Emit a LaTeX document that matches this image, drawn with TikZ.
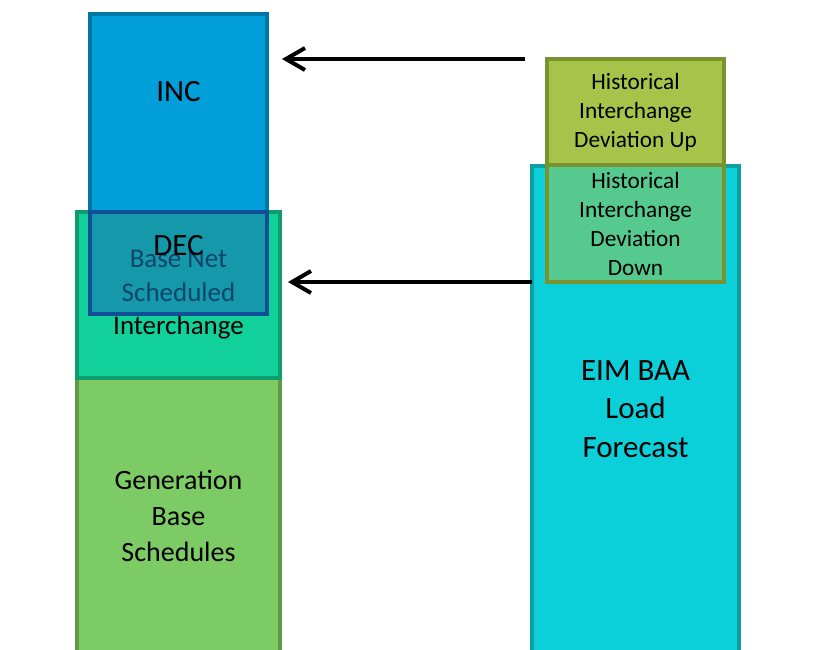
\documentclass[tikz,border=0pt]{standalone}
\usepackage{fontspec}
\setmainfont{Carlito}
\usepackage{tikz}
\usetikzlibrary{positioning}
\usetikzlibrary{arrows.meta}

\definecolor{genfill}{HTML}{7DCB64}
\definecolor{genline}{HTML}{5E9A46}
\definecolor{netfill}{HTML}{12D099}
\definecolor{netline}{HTML}{0E9E6E}
\definecolor{incfill}{HTML}{009FD9}
\definecolor{incline}{HTML}{0077A2}
\definecolor{decfill}{HTML}{1773B5}
\definecolor{decline}{HTML}{0F4F96}
\definecolor{eimfill}{HTML}{0BD0D9}
\definecolor{eimline}{HTML}{0A9FA0}
\definecolor{hupfill}{HTML}{A8C34A}
\definecolor{hupline}{HTML}{7A9230}
\definecolor{hdownfill}{HTML}{55C98E}

\begin{document}
\begin{tikzpicture}[x=1pt,y=-1pt,
   block/.style={draw, line width=4pt, outer sep=0pt, inner sep=0pt, align=center},
   flow/.style={line width=4pt, -{Straight Barb[length=19pt,width=22pt]}},
   big/.style={font=\fontsize{31}{38.5}\selectfont, align=center},
   mid/.style={font=\fontsize{28}{36}\selectfont},
   net/.style={font=\fontsize{27}{33.5}\selectfont},
   small/.style={font=\fontsize{23.3}{29}\selectfont}]
   \path[use as bounding box] (0,0) rectangle (837,649);
   \clip (0,0) rectangle (837,649);

   \node[block, mid, fill=genfill, draw=genline, minimum width=203pt, minimum height=276pt]
      (gen) at (178.5,516) {Generation\\Base\\Schedules};
   \node[block, net, fill=netfill, draw=netline, minimum width=203pt, minimum height=166pt,
      above=0pt of gen] (basenet) {Base Net\\Scheduled\\Interchange};
   \node[block, fill=decfill, fill opacity=0.6, draw=decline, minimum width=177pt, minimum height=102pt]
      (dec) at (178.5,263) {};
   \node[block, fill=incfill, draw=incline, minimum width=177pt, minimum height=198pt,
      above=0pt of dec] (inc) {};
   \draw[decline, line width=4pt] (dec.north west) rectangle (dec.south east);
   \node[big] (inc-text) at (178.5,92) {INC};
   \node[big] (dec-text) at (178.5,246) {DEC};

   \node[block, big, fill=eimfill, draw=eimline, minimum width=207pt, minimum height=486pt]
      (eim) at (635.5,409) {EIM BAA\\Load\\Forecast};
   \node[block, small, fill=hupfill, draw=hupline, minimum width=177pt, minimum height=106pt]
      (hup) at (635.5,112) {Historical\\Interchange\\Deviation Up};
   \node[block, small, fill=hdownfill, draw=hupline, minimum width=177pt, minimum height=117pt,
      below=0pt of hup] (hdown) {Historical\\Interchange\\Deviation\\Down};

   \draw[flow, shorten <=22pt, shorten >=15pt] (hup.north west) -- (inc.east |- hup.north west);
   \draw[flow, shorten >=8pt] (eim.west |- hdown.south) -- (basenet.east |- hdown.south);
\end{tikzpicture}
\end{document}
